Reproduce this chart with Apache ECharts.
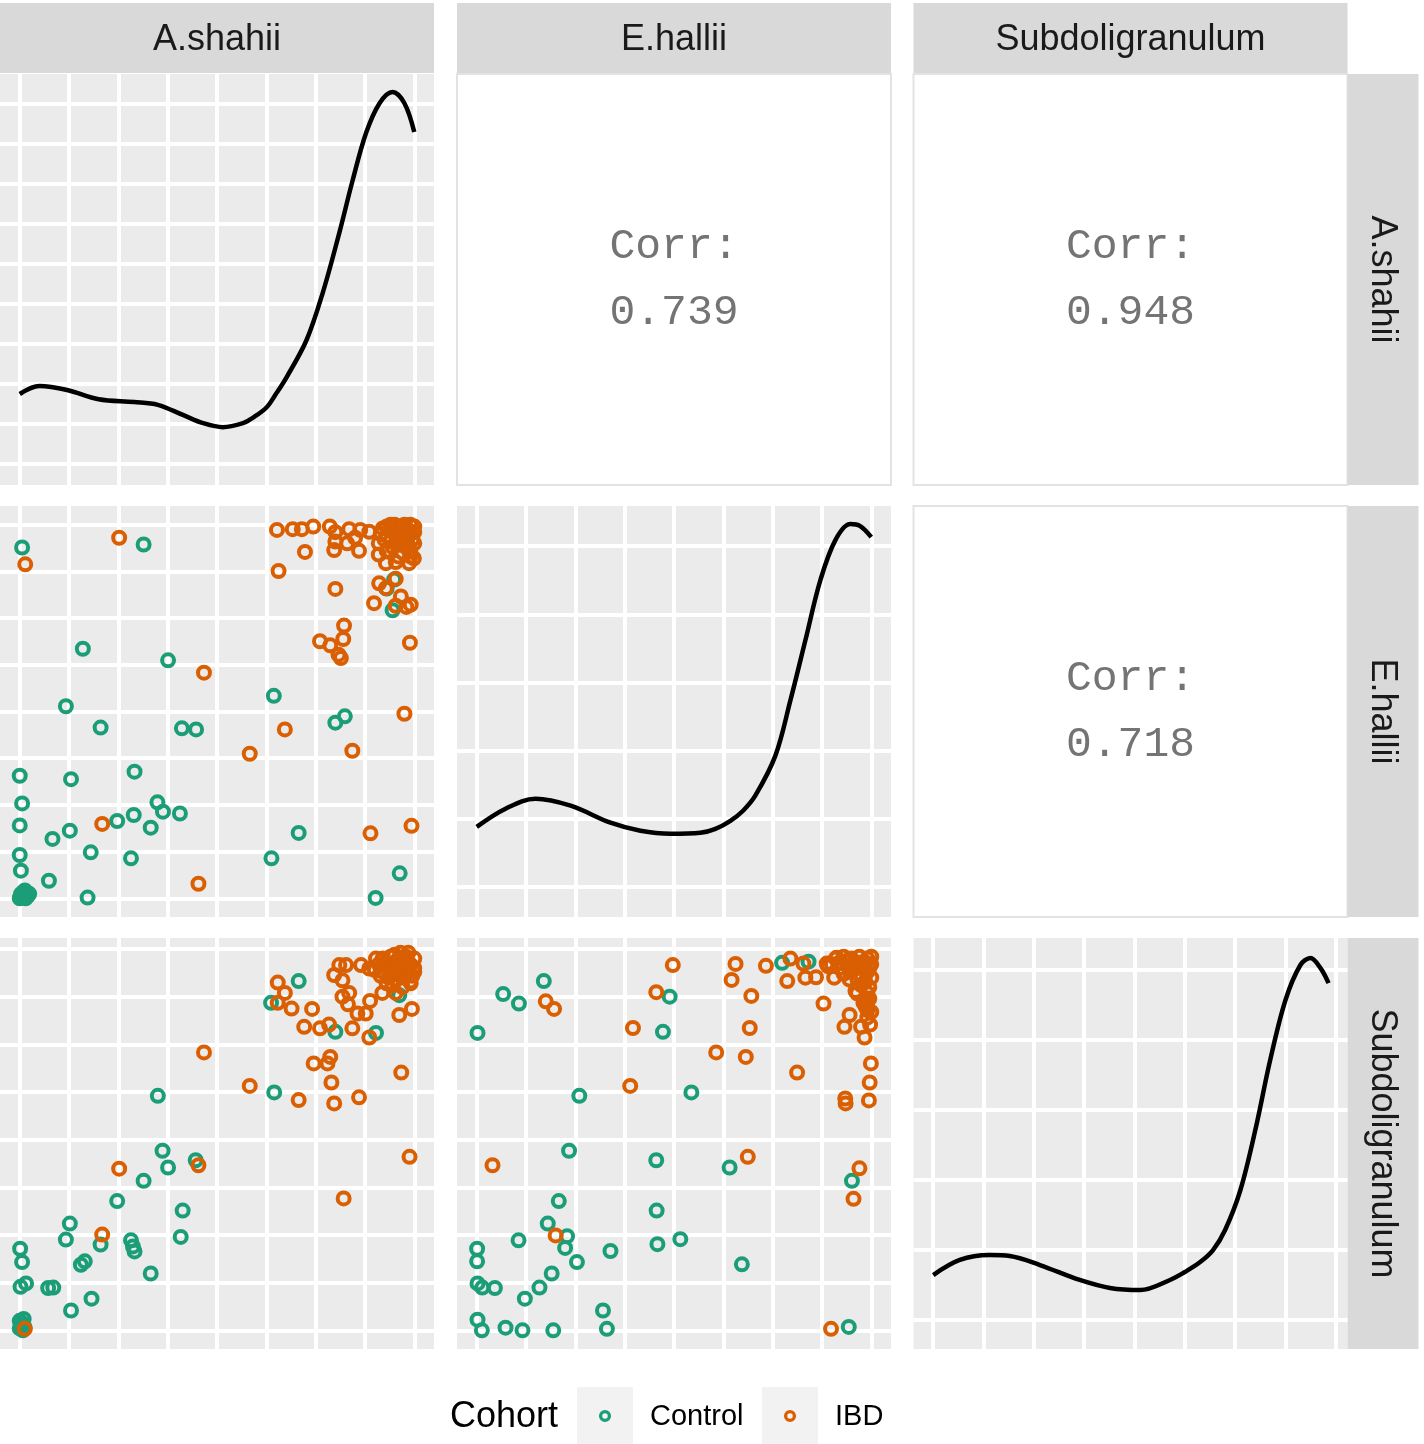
<!DOCTYPE html>
<html><head><meta charset="utf-8">
<script src="https://cdn.jsdelivr.net/npm/echarts@6/dist/echarts.min.js"></script>
<style>html,body{margin:0;padding:0;background:#fff}#c{width:1424px;height:1444px}</style>
</head><body><div id="c"></div>
<script>
// ---------------- DATA ----------------
const variables = ['A.shahii', 'E.hallii', 'Subdoligranulum'];
const cohorts = ['Control', 'IBD'];
const corrLabel = 'Corr:';
const corrAE = '0.739';
const corrAS = '0.948';
const corrES = '0.718';
const gridTicks = [0, 0.125, 0.25, 0.375, 0.5, 0.625, 0.75, 0.875, 1];

// density curves (diagonal)
const densA_x = [0, 0.05, 0.12, 0.2, 0.29, 0.35, 0.415, 0.465, 0.515, 0.566, 0.59, 0.626, 0.65, 0.677, 0.727, 0.768, 0.81, 0.844, 0.878, 0.912, 0.945, 0.975, 1.0];
const densA_y = [0.875, 0.975, 0.925, 0.81, 0.775, 0.74, 0.61, 0.51, 0.46, 0.51, 0.575, 0.71, 0.88, 1.09, 1.55, 2.14, 2.89, 3.55, 4.14, 4.51, 4.65, 4.51, 4.15];
const densE_x = [0, 0.073, 0.149, 0.238, 0.339, 0.415, 0.491, 0.567, 0.605, 0.643, 0.675, 0.706, 0.757, 0.795, 0.833, 0.871, 0.909, 0.947, 0.972, 1.0];
const densE_y = [0.441, 0.574, 0.647, 0.596, 0.471, 0.412, 0.39, 0.397, 0.426, 0.485, 0.559, 0.669, 0.963, 1.368, 1.809, 2.25, 2.544, 2.662, 2.647, 2.566];
const densS_x = [0, 0.066, 0.14, 0.19, 0.265, 0.364, 0.439, 0.514, 0.588, 0.625, 0.663, 0.695, 0.725, 0.763, 0.8, 0.837, 0.875, 0.912, 0.937, 0.962, 0.982];
const densS_y = [0.321, 0.429, 0.464, 0.457, 0.393, 0.286, 0.229, 0.214, 0.286, 0.343, 0.414, 0.5, 0.643, 0.929, 1.357, 1.857, 2.286, 2.536, 2.586, 2.514, 2.407];
const densTicksA = [0, 0.5, 1, 1.5, 2, 2.5, 3, 3.5, 4, 4.5];
const densTicksE = [0, 0.5, 1, 1.5, 2, 2.5];
const densTicksS = [0, 0.5, 1, 1.5, 2, 2.5];

// scatter: [A.shahii, E.hallii]
const ctrlAE = [[0.006,0.939],[0.314,0.947],[0.16,0.668],[0.376,0.637],[0.644,0.542],[0.117,0.514],[0.205,0.457],[0.411,0.455],[0.447,0.452],[0.8,0.47],[0.824,0.487],[0,0.328],[0.13,0.319],[0.291,0.339],[0.006,0.254],[0.349,0.257],[0.363,0.232],[0.406,0.227],[0.289,0.223],[0.247,0.207],[0,0.195],[0.127,0.181],[0.083,0.159],[0.332,0.189],[0.707,0.175],[0,0.116],[0.18,0.123],[0.282,0.107],[0.638,0.107],[0.003,0.074],[0.074,0.047],[0.963,0.067],[0.172,0.002],[0.902,0.001],[0.949,0.853],[0.945,0.771],[0.93,0.829],[0,0],[0.005,0.004],[0.01,0.008],[0.015,0],[0.02,0.006],[0.008,0.016],[0.003,0.011],[0.013,0.021],[0.024,0.012],[0.001,0.002]];
const ibdAE = [[0.252,0.965],[0.014,0.894],[0.467,0.604],[0.583,0.387],[0.672,0.452],[0.843,0.395],[0.975,0.494],[0.209,0.199],[0.889,0.174],[0.993,0.194],[0.453,0.039],[0.989,0.684],[0.822,0.73],[0.761,0.688],[0.787,0.677],[0.82,0.694],[0.808,0.652],[0.814,0.643],[0.8,0.828],[0.656,0.876],[0.723,0.927],[0.797,0.932],[0.86,0.93],[0.652,0.986],[0.692,0.988],[0.715,0.988],[0.744,0.995],[0.786,0.995],[0.8,0.98],[0.835,0.988],[0.863,0.986],[0.886,0.981],[0.8,0.955],[0.83,0.95],[0.85,0.965],[0.911,0.843],[0.928,0.83],[0.953,0.855],[0.898,0.79],[0.966,0.808],[0.953,0.783],[0.991,0.786],[0.98,0.78],[0.928,0.897],[0.953,0.9],[0.987,0.897],[0.999,0.91],[0.91,0.92],[0.96,0.915],[0.99,0.915],[0.92,0.99],[0.93,0.97],[0.94,1.0],[0.95,0.98],[0.96,0.995],[0.97,0.97],[0.98,0.99],[0.99,1.0],[1.0,0.98],[0.995,0.96],[0.985,0.945],[0.96,0.95],[0.94,0.955],[0.925,0.96],[0.975,1.0],[0.99,0.975],[1.0,0.995],[0.95,1.0],[0.965,0.985],[0.93,0.995],[0.915,0.975],[0.98,0.96],[0.945,0.94],[0.99,0.93],[0.97,0.925],[0.93,0.93],[0.91,0.95],[0.955,0.965],[1.0,0.95],[0.985,0.985]];

// scatter: [A.shahii, Subdoligranulum]
const ctrlAS = [[0.707,0.916],[0.637,0.859],[0.8,0.783],[0.903,0.78],[0.962,0.879],[0.35,0.615],[0.645,0.624],[0.362,0.471],[0.376,0.427],[0.446,0.446],[0.314,0.392],[0.247,0.339],[0.413,0.314],[0.408,0.245],[0.127,0.28],[0.117,0.238],[0.205,0.225],[0.282,0.236],[0.291,0.207],[0.287,0.22],[0.001,0.214],[0.006,0.179],[0.165,0.181],[0.155,0.172],[0.002,0.114],[0.016,0.123],[0.072,0.111],[0.085,0.112],[0.332,0.149],[0.13,0.052],[0.182,0.083],[0,0.005],[0.005,0.02],[0.01,0.03],[0.003,0.012],[0.008,0],[0.012,0.008],[0,0.025]];
const ibdAS = [[0.467,0.729],[0.252,0.424],[0.453,0.433],[0.209,0.251],[0.013,0.004],[0.988,0.455],[0.821,0.346],[0.583,0.641],[0.707,0.604],[0.797,0.595],[0.86,0.611],[0.79,0.65],[0.745,0.7],[0.78,0.7],[0.787,0.717],[0.967,0.676],[0.721,0.796],[0.761,0.792],[0.784,0.802],[0.843,0.792],[0.886,0.768],[0.962,0.827],[0.994,0.843],[0.654,0.912],[0.672,0.885],[0.654,0.859],[0.689,0.844],[0.741,0.843],[0.818,0.875],[0.835,0.885],[0.832,0.855],[0.856,0.831],[0.877,0.831],[0.888,0.864],[0.919,0.885],[0.797,0.932],[0.81,0.958],[0.827,0.958],[0.818,0.918],[0.865,0.958],[0.886,0.949],[0.903,0.975],[0.991,0.91],[0.953,0.885],[0.92,0.975],[0.94,0.98],[0.96,0.975],[0.98,0.98],[1.0,0.975],[0.99,0.96],[0.97,0.955],[0.95,0.96],[0.93,0.955],[0.91,0.96],[0.92,0.94],[0.94,0.945],[0.96,0.94],[0.98,0.945],[1.0,0.95],[0.995,0.93],[0.975,0.925],[0.955,0.92],[0.935,0.925],[0.915,0.93],[0.95,0.985],[0.985,0.99],[0.965,0.99],[0.925,0.96],[1.0,0.94],[0.99,0.915],[0.97,0.9],[0.945,0.905],[0.93,0.91],[0.96,0.965],[0.98,0.97],[0.9,0.945]];

// scatter: [E.hallii, Subdoligranulum]
const ctrlES = [[0.002,0.78],[0.067,0.882],[0.107,0.857],[0.17,0.916],[0.489,0.875],[0.472,0.783],[0.774,0.964],[0.841,0.967],[0.26,0.615],[0.544,0.624],[0.234,0.471],[0.455,0.446],[0.641,0.427],[0.951,0.392],[0.208,0.339],[0.456,0.314],[0.18,0.28],[0.229,0.247],[0.224,0.216],[0.106,0.236],[0.339,0.208],[0.458,0.226],[0.516,0.239],[0.254,0.179],[0.672,0.173],[0.001,0.214],[0.001,0.181],[0.002,0.123],[0.014,0.112],[0.046,0.111],[0.19,0.149],[0.159,0.112],[0.122,0.083],[0.32,0.052],[0.002,0.028],[0.013,0],[0.073,0.007],[0.116,0],[0.194,0],[0.33,0.004],[0.943,0.009]];
const ibdES = [[0.497,0.958],[0.455,0.887],[0.175,0.863],[0.196,0.843],[0.396,0.793],[0.656,0.961],[0.646,0.919],[0.733,0.956],[0.696,0.877],[0.692,0.793],[0.607,0.729],[0.682,0.717],[0.389,0.641],[0.812,0.676],[0.04,0.433],[0.2,0.249],[0.687,0.455],[0.97,0.425],[0.955,0.345],[0.898,0.004],[0.999,0.7],[0.996,0.65],[0.994,0.603],[0.934,0.608],[0.935,0.595],[0.879,0.857],[0.945,0.827],[0.932,0.796],[0.974,0.796],[0.997,0.802],[0.983,0.768],[0.964,0.884],[0.99,0.84],[0.99,0.86],[0.99,0.885],[0.787,0.916],[0.833,0.925],[0.86,0.926],[0.906,0.925],[0.795,0.975],[0.828,0.962],[0.887,0.962],[0.912,0.977],[0.995,0.87],[0.985,0.85],[1.0,0.835],[0.99,0.82],[0.98,0.86],[0.91,0.975],[0.93,0.98],[0.95,0.975],[0.97,0.98],[0.99,0.975],[1.0,0.96],[0.98,0.955],[0.96,0.96],[0.94,0.955],[0.92,0.95],[0.9,0.96],[0.95,0.94],[0.97,0.935],[0.99,0.94],[1.0,0.925],[0.985,0.915],[0.965,0.92],[0.945,0.92],[0.93,0.935],[0.995,0.9],[0.975,0.905],[0.96,0.89],[1.0,0.98],[0.985,0.965],[0.955,0.95],[0.92,0.965],[0.975,0.965],[0.94,0.97],[0.89,0.955],[0.995,0.95]];

// ---------------- LAYOUT / STYLE ----------------
const colors = { Control: '#1B9E77', IBD: '#D95F02' };
const colLeft = [0, 457, 913.5];
const colW = 434;
const rowTop = [74, 506, 938];
const rowH = 411;
const varRange = [[-0.05, 1.05], [-0.05, 1.05], [-0.049, 1.029]];
const densRange = [[-0.2625, 4.875], [-0.2206, 2.794], [-0.207, 2.729]];
const densTicks = [densTicksA, densTicksE, densTicksS];
const densX = [densA_x, densE_x, densS_x];
const densY = [densA_y, densE_y, densS_y];
const scatterData = {
  '1,0': [ctrlAE, ibdAE],
  '2,0': [ctrlAS, ibdAS],
  '2,1': [ctrlES, ibdES]
};
const corrText = { '0,1': corrAE, '0,2': corrAS, '1,2': corrES };

const grids = [], xAxes = [], yAxes = [], series = [];
const gridLineStyle = { color: '#FFFFFF', width: 4 };
function axis(idx, range, ticks, show) {
  return {
    gridIndex: idx, type: 'value', min: range[0], max: range[1], show: true,
    axisLine: { show: false }, axisLabel: { show: false },
    axisTick: { show: false, customValues: ticks },
    splitLine: { show: show, lineStyle: gridLineStyle },
    splitArea: { show: false }
  };
}
for (let r = 0; r < 3; r++) {
  for (let c = 0; c < 3; c++) {
    const idx = r * 3 + c;
    const upper = c > r;
    grids.push({
      left: colLeft[c], top: rowTop[r], width: colW, height: rowH, show: true,
      backgroundColor: upper ? '#FFFFFF' : '#EBEBEB',
      borderWidth: upper ? 2 : 0, borderColor: '#E3E3E3'
    });
    xAxes.push(axis(idx, varRange[c], gridTicks, !upper));
    if (r === c) {
      yAxes.push(axis(idx, densRange[r], densTicks[r], true));
      series.push({
        type: 'line', xAxisIndex: idx, yAxisIndex: idx, smooth: 0.35,
        showSymbol: false, silent: true,
        lineStyle: { color: '#000000', width: 4.5 },
        data: densX[r].map((x, i) => [x, densY[r][i]]), z: 3
      });
    } else {
      yAxes.push(axis(idx, varRange[r], gridTicks, !upper));
    }
    const sd = scatterData[r + ',' + c];
    if (sd) {
      cohorts.forEach((name, k) => {
        series.push({
          type: 'scatter', name: name, xAxisIndex: idx, yAxisIndex: idx,
          data: sd[k], symbol: 'circle', symbolSize: 12, silent: true,
          itemStyle: { color: 'rgba(0,0,0,0)', borderColor: colors[name], borderWidth: 4, opacity: 1 },
          z: 3 + k
        });
      });
    }
  }
}

const graphics = [];
const stripFont = '36px "Liberation Sans", Arial, sans-serif';
variables.forEach((v, i) => {
  graphics.push({ type: 'rect', shape: { x: colLeft[i], y: 3, width: colW, height: 70 }, style: { fill: '#D9D9D9' }, silent: true });
  graphics.push({ type: 'text', x: colLeft[i] + colW / 2, y: 40,
    style: { text: v, x: 0, y: 0, font: stripFont, fill: '#1A1A1A', align: 'center', verticalAlign: 'middle', textAlign: 'center', textVerticalAlign: 'middle' }, silent: true });
  graphics.push({ type: 'rect', shape: { x: 1347.5, y: rowTop[i], width: 71, height: rowH }, style: { fill: '#D9D9D9' }, silent: true });
  graphics.push({ type: 'text', x: 1382, y: rowTop[i] + rowH / 2, rotation: -Math.PI / 2,
    style: { text: v, x: 0, y: 0, font: stripFont, fill: '#1A1A1A', align: 'center', verticalAlign: 'middle', textAlign: 'center', textVerticalAlign: 'middle' }, silent: true });
});
const corrFont = '43px "Liberation Mono", "DejaVu Sans Mono", monospace';
Object.keys(corrText).forEach(key => {
  const [r, c] = key.split(',').map(Number);
  const cx = colLeft[c] + colW / 2, cy = rowTop[r] + rowH / 2;
  [[corrLabel, -33], [corrText[key], 33]].forEach(([t, dy]) => {
    graphics.push({ type: 'text', x: cx, y: cy + dy,
      style: { text: t, x: 0, y: 0, font: corrFont, fill: '#747474', align: 'center', verticalAlign: 'middle', textAlign: 'center', textVerticalAlign: 'middle' }, silent: true });
  });
});
graphics.push({ type: 'text', x: 450, y: 1417,
  style: { text: 'Cohort', x: 0, y: 0, font: '36px "Liberation Sans", Arial, sans-serif', fill: '#000000', align: 'left', verticalAlign: 'middle', textAlign: 'left', textVerticalAlign: 'middle' }, silent: true });
const keyX = [577, 762];
cohorts.forEach((name, k) => {
  graphics.push({ type: 'rect', shape: { x: keyX[k], y: 1387, width: 56, height: 57 }, style: { fill: '#F2F2F2' }, silent: true });
  graphics.push({ type: 'circle', shape: { cx: keyX[k] + 28, cy: 1416, r: 4.4 }, style: { fill: 'none', stroke: colors[name], lineWidth: 3.3 }, silent: true });
  graphics.push({ type: 'text', x: keyX[k] + 73, y: 1417,
    style: { text: name, x: 0, y: 0, font: '29px "Liberation Sans", Arial, sans-serif', fill: '#000000', align: 'left', verticalAlign: 'middle', textAlign: 'left', textVerticalAlign: 'middle' }, silent: true });
});

const chart = echarts.init(document.getElementById('c'), null, { renderer: 'canvas' });
chart.setOption({
  animation: false,
  backgroundColor: '#FFFFFF',
  grid: grids, xAxis: xAxes, yAxis: yAxes, series: series,
  graphic: { elements: graphics }
});
</script>
</body></html>
